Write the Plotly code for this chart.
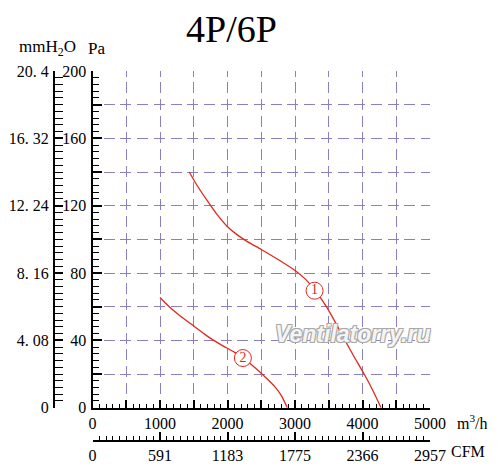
import plotly.graph_objects as go

# curve 1 (4P) and curve 2 (6P): airflow m3/h vs static pressure Pa
flow_1 = [1433, 1550, 1700, 1850, 2000, 2150, 2300, 2500, 2750, 3000, 3150, 3300,
          3465, 3600, 3740, 3880, 4024, 4150, 4274]
pres_1 = [140, 132, 123, 114.5, 107.5, 102.5, 98.5, 94, 88, 81.5, 76.5, 69.5,
          60, 50.5, 40, 30, 20, 10.5, 0]

flow_2 = [1000, 1150, 1300, 1500, 1700, 1900, 2100, 2230, 2400, 2550, 2700, 2800, 2885]
pres_2 = [65.5, 59.5, 54.5, 48.5, 42.5, 37.5, 33, 29.5, 24, 18.5, 12.5, 7, 0]

# curve number badges
badge_x = [3290, 2228]
badge_y = [69.5, 29.5]
badge_text = ["1", "2"]

flow_ticks = [0, 1000, 2000, 3000, 4000, 5000]
cfm_labels = ["0", "591", "1183", "1775", "2366", "2957"]

mm_ticks = [0, 40, 80, 120, 160, 200]
mm_labels = ["0", "4. 08", "8. 16", "12. 24", "16. 32", "20. 4"]

RED = "#e0281e"
GRID = "#8c7fbf"
FONT = "Liberation Serif"
DASH = "5.5px,5.7px,5.5px,0px"

fig = go.Figure()
fig.add_trace(go.Scatter(x=flow_1, y=pres_1, mode="lines",
                         line=dict(color=RED, width=1.3, shape="spline", smoothing=0.6),
                         hoverinfo="skip", showlegend=False))
fig.add_trace(go.Scatter(x=flow_2, y=pres_2, mode="lines",
                         line=dict(color=RED, width=1.3, shape="spline", smoothing=0.6),
                         hoverinfo="skip", showlegend=False))
fig.add_trace(go.Scatter(x=badge_x, y=badge_y, mode="markers+text", text=badge_text,
                         textposition="middle center", textfont=dict(family=FONT, size=14, color=RED),
                         marker=dict(symbol="circle", size=17, color="white", line=dict(color=RED, width=1)),
                         hoverinfo="skip", showlegend=False))
# dummy trace so the secondary axes get drawn
fig.add_trace(go.Scatter(x=[0], y=[0], xaxis="x2", yaxis="y2", mode="markers",
                         marker=dict(opacity=0), hoverinfo="skip", showlegend=False))

tick_font = dict(family=FONT, size=16, color="black")
x_dom = [0.1024, 1]
y_dom = [0.09, 1]

# the page body adds an 8px offset, so margins are shifted to compensate
fig.update_layout(
    width=500, height=472,
    margin=dict(l=46, r=78, t=63, b=39),
    paper_bgcolor="white", plot_bgcolor="white",
    font=dict(family=FONT, color="black"),
    xaxis=dict(
        domain=x_dom, range=[0, 5000], tickmode="linear", tick0=0, dtick=500, ticklabelstep=2,
        tickformat="d", ticks="inside", ticklen=8, tickwidth=1.5, tickcolor="black",
        minor=dict(dtick=100, ticks="inside", ticklen=4, tickwidth=1.2, tickcolor="black", showgrid=False),
        showline=True, linecolor="black", linewidth=2,
        showgrid=True, gridcolor=GRID, gridwidth=1.4, griddash=DASH,
        zeroline=False, tickfont=tick_font, automargin=False, fixedrange=True,
    ),
    yaxis=dict(
        domain=y_dom, range=[0, 200], tickmode="linear", tick0=0, dtick=20, ticklabelstep=2,
        ticks="inside", ticklen=9, tickwidth=1.5, tickcolor="black",
        minor=dict(dtick=4, ticks="inside", ticklen=6, tickwidth=1.2, tickcolor="black", showgrid=False),
        showline=True, linecolor="black", linewidth=2,
        showgrid=True, gridcolor=GRID, gridwidth=1.4, griddash=DASH,
        zeroline=False, tickfont=tick_font, ticklabelstandoff=1, automargin=False, fixedrange=True,
    ),
    xaxis2=dict(
        domain=x_dom, range=[0, 5000], overlaying="x", anchor="free", position=0, side="bottom",
        tickmode="array", tickvals=flow_ticks, ticktext=cfm_labels,
        ticks="inside", ticklen=8, tickwidth=1.5, tickcolor="black",
        minor=dict(dtick=100, ticks="inside", ticklen=4, tickwidth=1.2, tickcolor="black", showgrid=False),
        showline=True, linecolor="black", linewidth=2,
        showgrid=False, zeroline=False, tickfont=tick_font, automargin=False, fixedrange=True,
    ),
    yaxis2=dict(
        domain=y_dom, range=[0, 200], overlaying="y", anchor="free", position=0, side="left",
        tickmode="array", tickvals=mm_ticks, ticktext=mm_labels,
        ticks="inside", ticklen=8, tickwidth=1.5, tickcolor="black",
        minor=dict(dtick=4, ticks="inside", ticklen=8, tickwidth=1.2, tickcolor="black", showgrid=False),
        showline=True, linecolor="black", linewidth=2,
        showgrid=False, zeroline=False, tickfont=tick_font, ticklabelstandoff=1,
        automargin=False, fixedrange=True,
    ),
)

outline = "-1px -1px 0 #a8a8a8, 1px -1px 0 #a8a8a8, -1px 1px 0 #a8a8a8, 1px 1px 0 #a8a8a8"
annotations = [
    dict(text="4P/6P", x=0.473, y=1.113, font=dict(size=38)),
    dict(text="mmH<sub>2</sub>O", x=-0.016, y=1.062, font=dict(size=17)),
    dict(text="Pa", x=0.112, y=1.062, font=dict(size=17)),
    dict(text="m<sup>3</sup>/h", x=1.112, y=0.052, font=dict(size=16)),
    dict(text="CFM", x=1.101, y=-0.029, font=dict(size=16)),
    dict(text="Ventilatorry.ru", x=0.795, y=0.29,
         font=dict(family="Liberation Sans", size=23, color="#f4f4f4", style="italic", weight="bold",
                   shadow=outline)),
]
for a in annotations:
    a.update(xref="paper", yref="paper", showarrow=False, xanchor="center", yanchor="middle")
    a["font"].setdefault("family", FONT)
    a["font"].setdefault("color", "black")
    fig.add_annotation(**a)

fig.write_html("out.html")
